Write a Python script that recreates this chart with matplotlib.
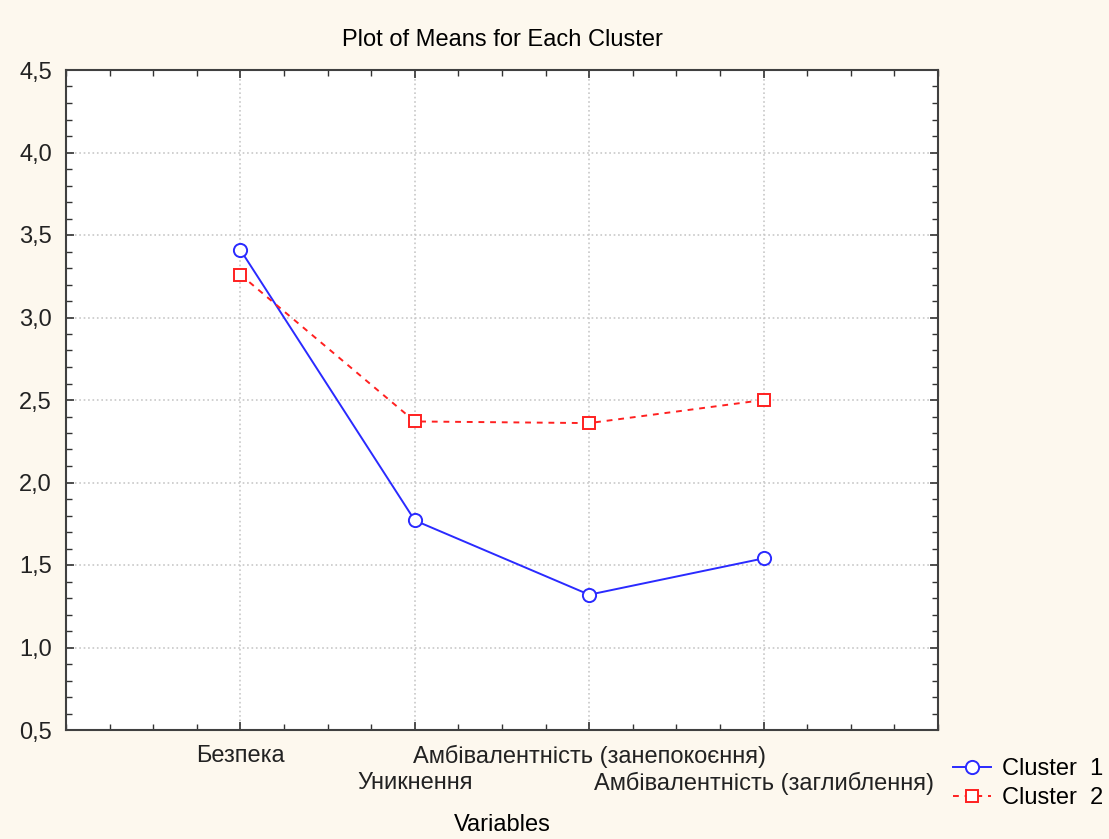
import matplotlib.pyplot as plt
from matplotlib.ticker import MultipleLocator, FuncFormatter

variables = ['Безпека', 'Уникнення', 'Амбівалентність (занепокоєння)', 'Амбівалентність (заглиблення)']
cluster1 = [3.41, 1.77, 1.32, 1.54]
cluster2 = [3.26, 2.37, 2.36, 2.50]

plt.rcParams['font.family'] = ['Liberation Sans', 'DejaVu Sans']
fs = 17

fig = plt.figure(figsize=(11.09, 8.39), dpi=100, facecolor='#fdf8ee')
ax = fig.add_axes([66 / 1109, 1 - 730 / 839, 872 / 1109, 660 / 839])
ax.set_facecolor('white')

pos = list(range(len(variables)))
ax.plot(pos, cluster1, color='#2a2aff', lw=1.4, marker='o', ms=9.5, mfc='white', mec='#2a2aff', mew=1.4, label='Cluster  1')
ax.plot(pos, cluster2, color='#ff2020', lw=1.4, ls=(0, (3, 3)), marker='s', ms=9, mfc='white', mec='#ff2020', mew=1.4, label='Cluster  2')

ax.set_xlim(-1, 4)
ax.set_ylim(0.5, 4.5)
ax.set_xticks(pos)
ax.set_xticklabels(variables)
ax.xaxis.set_minor_locator(MultipleLocator(0.25))
ax.yaxis.set_major_locator(MultipleLocator(0.5))
ax.yaxis.set_minor_locator(MultipleLocator(0.1))
ax.yaxis.set_major_formatter(FuncFormatter(lambda v, p: f'{v:.1f}'.replace('.', ',')))

ax.tick_params(which='both', direction='in', top=True, right=True, colors='#333333', labelcolor='#222222')
ax.tick_params(which='major', length=6, width=1.2, labelsize=fs)
ax.tick_params(axis='y', which='major', pad=10)
ax.tick_params(axis='x', which='major', pad=11)
ax.tick_params(which='minor', length=4, width=1)
for i, t in enumerate(ax.xaxis.get_major_ticks()):
    if i % 2 == 1:
        t.set_pad(30)
for s in ax.spines.values():
    s.set_color('#404040')
    s.set_linewidth(1.5)

ax.grid(True, which='major', color='#c8c8c8', ls=':', lw=1.2)

ax.set_xlabel('Variables', fontsize=fs, labelpad=14)
ax.set_title('Plot of Means for Each Cluster', fontsize=fs, pad=17)
ax.legend(loc='upper left', bbox_to_anchor=(0.998, -0.018), frameon=False, fontsize=fs,
          handlelength=1.6, handletextpad=0.5, labelspacing=0.3, borderaxespad=0.3)

fig.savefig('out.png', dpi=100, facecolor=fig.get_facecolor())
